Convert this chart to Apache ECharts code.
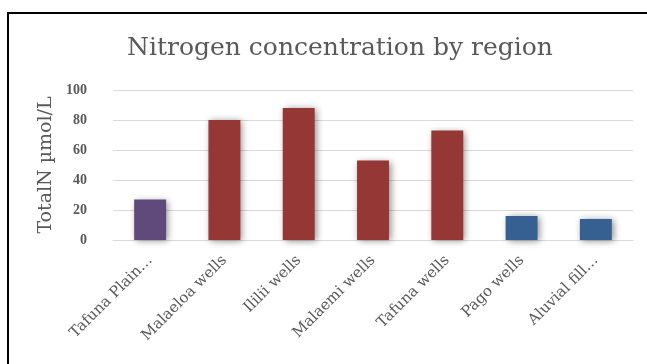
<!DOCTYPE html>
<html>
<head>
<meta charset="utf-8">
<script src="https://cdn.jsdelivr.net/npm/echarts@6/dist/echarts.min.js"></script>
<style>
  html, body { margin: 0; padding: 0; background: #fff; }
  #chart { width: 647px; height: 364px; }
  #frame {
    position: absolute; left: 7px; top: 12px; width: 640px; height: 352px;
    border-top: 2px solid #000; border-left: 2px solid #000; pointer-events: none;
  }
</style>
</head>
<body>
<div id="chart"></div>
<div id="frame"></div>
<script>
// data
const regions = ['Tafuna Plain…', 'Malaeloa wells', 'Ililii wells', 'Malaemi wells', 'Tafuna wells', 'Pago wells', 'Aluvial fill…'];
const totalN = [27, 80, 88, 53, 73, 16, 14];
const regionGroup = [0, 1, 1, 1, 1, 2, 2];
const yTicks = { min: 0, max: 100, interval: 20 };

// styles
const groupColors = ['#604a7b', '#953735', '#376092'];
const serif = '"DejaVu Serif", "Liberation Serif", serif';
const numFont = '"Liberation Serif", serif';

const chart = echarts.init(document.getElementById('chart'));

const option = {
  animation: false,
  title: {
    text: 'Nitrogen concentration by region',
    left: 335,
    textAlign: 'center',
    top: 31,
    textStyle: { fontFamily: serif, fontSize: 25, fontWeight: 'normal', color: '#595959' }
  },
  grid: { left: 113, right: 14, top: 90, bottom: 124 },
  xAxis: {
    type: 'category',
    data: regions,
    axisLine: { lineStyle: { color: '#d9d9d9' } },
    axisTick: { length: 5, lineStyle: { color: '#d9d9d9' } },
    axisLabel: {
      rotate: 45,
      interval: 0,
      margin: 18,
      fontFamily: serif,
      fontSize: 15,
      color: '#595959'
    }
  },
  yAxis: {
    type: 'value',
    min: yTicks.min,
    max: yTicks.max,
    interval: yTicks.interval,
    name: 'TotalN µmol/L',
    nameLocation: 'middle',
    nameGap: 55,
    nameTextStyle: { fontFamily: serif, fontSize: 19, color: '#595959' },
    axisLine: { show: false },
    axisTick: { show: false },
    axisLabel: { fontFamily: numFont, fontSize: 14, fontWeight: 'bold', color: '#595959', margin: 26 },
    splitLine: { lineStyle: { color: '#d9d9d9' } }
  },
  series: [{
    type: 'bar',
    barWidth: '43%',
    data: totalN.map((v, i) => ({
      value: v,
      itemStyle: {
        color: groupColors[regionGroup[i]],
        shadowBlur: 7,
        shadowOffsetX: 2,
        shadowOffsetY: 1,
        shadowColor: 'rgba(0,0,0,0.45)'
      }
    }))
  }]
};

chart.setOption(option);
</script>
</body>
</html>
